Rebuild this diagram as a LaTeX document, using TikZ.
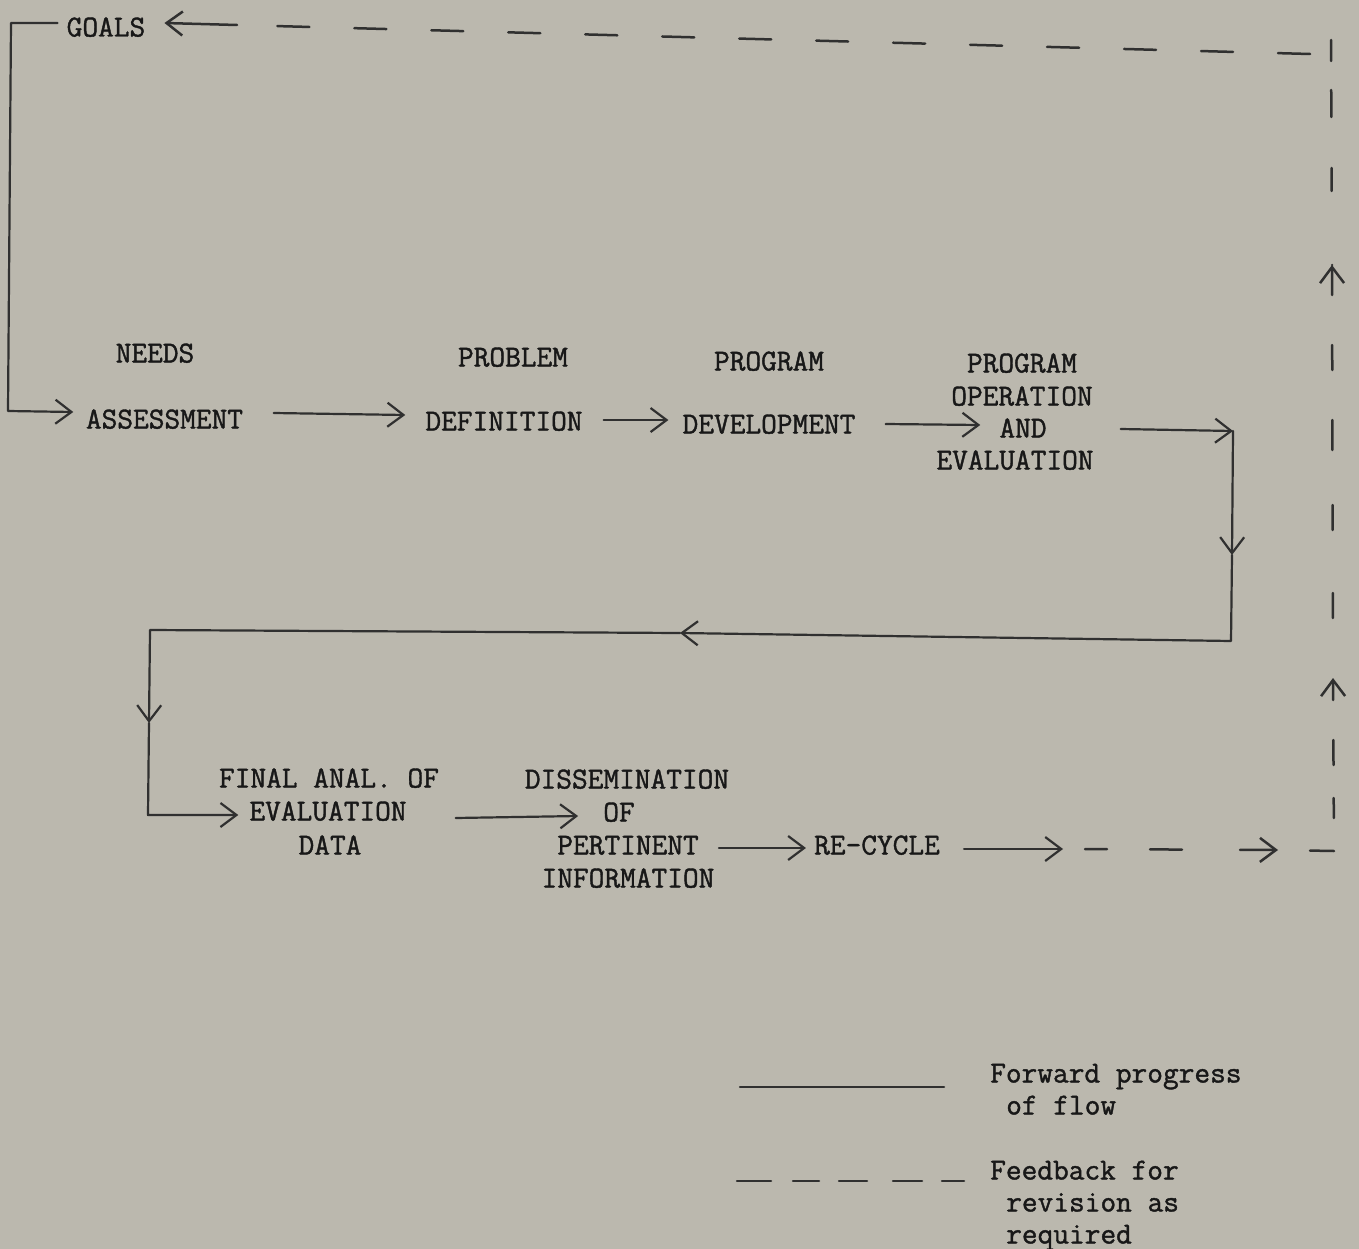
\documentclass[tikz,border=0pt]{standalone}
\usepackage{fontspec}
\newfontfamily\typew{Latin Modern Mono}[RawFeature={embolden=1.3}]
\usetikzlibrary{arrows.meta,calc}
\definecolor{bgcol}{RGB}{187,184,174}
\definecolor{inkcol}{RGB}{48,48,48}
\definecolor{txtcol}{RGB}{24,24,24}
\begin{document}
\begin{tikzpicture}[x=1pt,y=-1pt,
  lbl/.style={font=\typew\fontsize{30.5}{33}\selectfont, inner sep=0pt, text height=19pt, text depth=0pt, text=txtcol},
  lgl/.style={lbl, anchor=west},
  flow/.style={draw=inkcol, line width=2.2pt, line cap=round, line join=round},
  fb/.style={draw=inkcol, line width=2.5pt, line cap=round},
  >={Straight Barb[length=16pt,width=24pt]}]
\useasboundingbox (0,0) rectangle (1359,1249);
\fill[bgcol] (0,0) rectangle (1359,1249);

% ---- text nodes
\node[lbl] (goals) at (106,27) {GOALS};
\node[lbl] (needs) at (155,353) {NEEDS};
\node[lbl] (assess) at (164.5,419) {ASSESSMENT};
\node[lbl] (problem) at (513,357) {PROBLEM};
\node[lbl] (def) at (504,421) {DEFINITION};
\node[lbl] (program) at (769,361) {PROGRAM};
\node[lbl] (dev) at (769,424) {DEVELOPMENT};
\node[lbl] (op1) at (1022,363) {PROGRAM};
\node[lbl] (op2) at (1022,396) {OPERATION};
\node[lbl] (op3) at (1023,428) {AND};
\node[lbl] (op4) at (1015,460) {EVALUATION};
\node[lbl] (fin1) at (329,778) {FINAL ANAL. OF};
\node[lbl] (fin2) at (328,811) {EVALUATION};
\node[lbl] (fin3) at (330,845) {DATA};
\node[lbl] (dis1) at (627,779) {DISSEMINATION};
\node[lbl] (dis2) at (619,812) {OF};
\node[lbl] (dis3) at (628,845) {PERTINENT};
\node[lbl] (dis4) at (628,878) {INFORMATION};
\node[lbl] (recycle) at (877,845) {RE-CYCLE};
\node[lgl] (leg1a) at (990,1073) {Forward progress};
\node[lgl] (leg1b) at (1006,1105) {of flow};
\node[lgl] (leg2a) at (990,1170) {Feedback for};
\node[lgl] (leg2b) at (1006,1202) {revision as};
\node[lgl] (leg2c) at (1006,1234) {required};

% ---- corner coordinates
\coordinate (c4) at (11,23);
\coordinate (c5) at (8,411);
\coordinate (c6) at (1233,431);
\coordinate (d1) at (1232,555);
\coordinate (c7) at (1231,641);
\coordinate (d2) at (680,633);
\coordinate (c8) at (150,630);
\coordinate (d3) at (149,723);
\coordinate (c9) at (148,815);
\coordinate (h1) at (1063,849);
\coordinate (m1) at (1278,850);
\coordinate (c1) at (1334,851);
\coordinate (a1) at (1333,678);
\coordinate (a2) at (1332,265);
\coordinate (c2) at (1331,40);
\coordinate (c3) at (1310,54);
\coordinate (g1) at (237,25);
\coordinate (l1a) at (740,1087);
\coordinate (l1b) at (944,1087);
\coordinate (l2a) at (737,1181);
\coordinate (l2b) at (964,1181);

% ---- forward flow (solid)
\draw[flow,->] ($(goals.west)+(-9,-4)$) -- (c4) -- (c5) -- ($(assess.west)+(-12.5,-7)$);
\draw[flow,->] ($(assess.east)+(30.5,-6)$) -- ($(def.west)+(-20,-6)$);
\draw[flow,->] ($(def.east)+(21,-1)$) -- ($(dev.west)+(-14,-4)$);
\draw[flow,->] ($(dev.east)+(30,0)$) -- ($(op3.west)+(-19,-3)$);
\draw[flow,->] ($(op4.east)+(27,-31)$) -- (c6);
\draw[flow,->] (c6) -- (d1);
\draw[flow,->] (d1) -- (c7) -- (d2);
\draw[flow,->] (d2) -- (c8) -- (d3);
\draw[flow,->] (d3) -- (c9) -- ($(fin2.west)+(-11,4)$);
\draw[flow,->] ($(fin2.east)+(49,7)$) -- ($(dis2.west)+(-25,4)$);
\draw[flow,->] ($(dis3.east)+(20,3)$) -- ($(recycle.west)+(-8,3)$);
\draw[flow,->] ($(recycle.east)+(24,4)$) -- (h1);

% ---- feedback (dashed)
\draw[fb,->,dash pattern=on 22pt off 43pt on 32pt off 58pt on 38pt off 22pt,dash phase=193pt] (h1) -- (m1);
\draw[fb,dash pattern=on 24pt off 32pt,dash phase=24pt] (m1) -- (c1);
\draw[fb,->,dash pattern=on 20pt off 33pt on 25pt off 40pt on 22pt off 33pt,dash phase=140pt] (c1) -- (a1);
\draw[fb,->,dash pattern=on 25pt off 63pt on 25pt off 55pt on 30pt off 50pt on 25pt off 50pt on 30pt off 60pt,dash phase=353pt] (a1) -- (a2);
\draw[fb,dash pattern=on 23pt off 51pt on 27pt off 29pt on 21pt off 74pt,dash phase=151pt] (a2) -- (c2);
\draw[fb,dash pattern=on 32pt off 45pt] (c3) -- (g1);
\draw[flow,line width=2.5pt,->] (g1) -- ($(goals.east)+(19,-4)$);

% ---- legend
\draw[flow,line width=2.5pt] (l1a) -- (l1b);
\draw[fb,dash pattern=on 34pt off 22pt on 26pt off 20pt on 28pt off 26pt on 29pt off 20pt on 22pt off 10pt] (l2a) -- (l2b);
\end{tikzpicture}
\end{document}
